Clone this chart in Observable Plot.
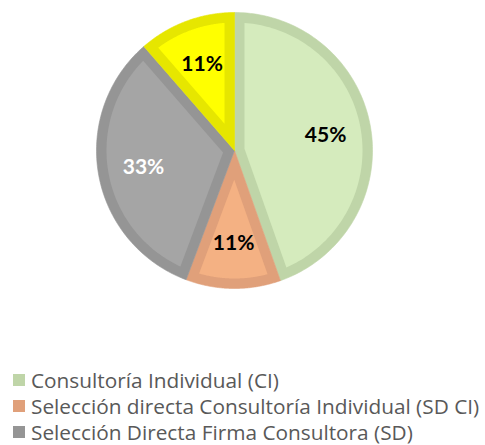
<!DOCTYPE html>
<html><head><meta charset="utf-8">
<script src="https://cdn.jsdelivr.net/npm/d3@7"></script>
<script src="https://cdn.jsdelivr.net/npm/@observablehq/plot@0.6"></script>
<style>
html,body{margin:0;padding:0;background:#fff;overflow:hidden;width:485px;height:445px;}
#legend{margin-top:7px;font-family:"Open Sans",Lato,sans-serif;font-size:20.8px;color:#595959;}
.row{height:26px;line-height:26px;display:flex;align-items:center;white-space:nowrap;}
.sw{width:12px;height:12px;margin-left:13px;margin-right:6px;flex:none;}
</style></head>
<body>
<div id="chart"></div>
<div id="legend"></div>
<script>
const categories = ["Consultoría Individual (CI)", "Selección directa Consultoría Individual (SD CI)", "Selección Directa Firma Consultora (SD)", "Otros"];
const shares = [44.6, 11.1, 32.9, 11.4];
const pctLabels = ["45%", "11%", "33%", "11%"];
const fillColors = ["#D5EBBD", "#F4B183", "#A5A5A5", "#FFFF00"];
const borderColors = ["#BFD5A8", "#E0A07A", "#959595", "#E6E600"];
const labelColors = ["#000000", "#000000", "#FFFFFF", "#000000"];
const legendShown = 3;

const W = 485, H = 360, cx = 234, cy = 150, R = 138, band = 10;
const w = band / R;

const pie = d3.pie().sort(null).value(d => d.share).startAngle(0).endAngle(2 * Math.PI);
const rows = categories.map((c, i) => ({name: c, share: shares[i], label: pctLabels[i], fill: fillColors[i], border: borderColors[i], lc: labelColors[i]}));
const arcs = pie(rows);

function arcPts(a0, a1, r, n) {
  const pts = [];
  for (let k = 0; k <= n; k++) {
    const a = a0 + (a1 - a0) * k / n;
    pts.push([Math.sin(a) * r, -Math.cos(a) * r]);
  }
  return pts;
}
function outerWedge(a0, a1) {
  return [[0, 0], ...arcPts(a0, a1, 1, 120), [0, 0]];
}
function innerWedge(a0, a1) {
  const h = (a1 - a0) / 2, m = (a0 + a1) / 2;
  const d = w / Math.sin(h);
  const apex = [Math.sin(m) * d, -Math.cos(m) * d];
  const rr = 1 - w;
  const del = Math.asin(w / rr);
  return [apex, ...arcPts(a0 + del, a1 - del, rr, 120), apex];
}
const outerData = arcs.flatMap(a => outerWedge(a.startAngle, a.endAngle).map(([x, y]) => ({x, y, key: a.data.name, c: a.data.border})));
const innerData = arcs.flatMap(a => innerWedge(a.startAngle, a.endAngle).map(([x, y]) => ({x, y, key: a.data.name, c: a.data.fill})));
const labelR = 0.67;
const labelData = arcs.map(a => {
  const m = (a.startAngle + a.endAngle) / 2;
  return {x: Math.sin(m) * labelR, y: -Math.cos(m) * labelR, text: a.data.label, c: a.data.lc};
});

const chart = Plot.plot({
  width: W, height: H, margin: 0,
  style: {background: "#fff", overflow: "visible"},
  x: {domain: [-cx / R, (W - cx) / R], range: [0, W], axis: null},
  y: {domain: [-cy / R, (H - cy) / R], range: [0, H], axis: null},
  color: {type: "identity"},
  marks: [
    Plot.line(outerData, {x: "x", y: "y", z: "key", fill: "c", stroke: "c", strokeWidth: 0.6, curve: "linear"}),
    Plot.line(innerData, {x: "x", y: "y", z: "key", fill: "c", stroke: "none", curve: "linear"}),
    Plot.text(labelData, {x: "x", y: "y", text: "text", fill: "c", fontSize: 21, fontWeight: "bold", fontFamily: "Lato, 'Open Sans', sans-serif"})
  ]
});
document.getElementById("chart").appendChild(chart);

const legend = d3.select("#legend");
rows.slice(0, legendShown).forEach(r => {
  const row = legend.append("div").attr("class", "row");
  row.append("div").attr("class", "sw").style("background", r.border);
  row.append("span").text(r.name);
});
</script>
</body></html>
